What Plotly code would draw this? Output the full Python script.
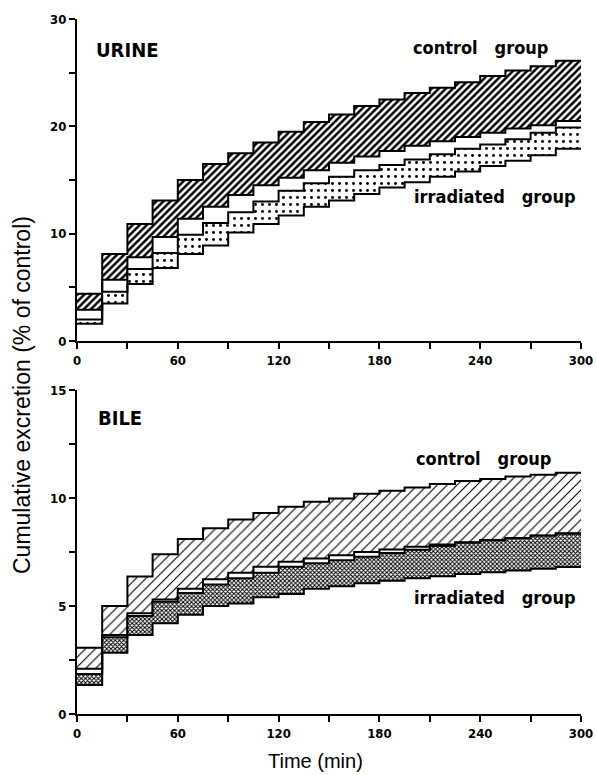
import plotly.graph_objects as go

# ---- data ----
TIME_EDGES = [0, 15, 30, 45, 60, 75, 90, 105, 120, 135, 150, 165, 180, 195, 210, 225, 240, 255, 270, 285, 300]

URINE_CTRL_UPPER = [4.4, 8.1, 10.9, 13.1, 15.0, 16.5, 17.5, 18.5, 19.5, 20.4, 21.1, 21.9, 22.5, 23.1, 23.6, 24.1, 24.7, 25.2, 25.6, 26.1]
URINE_CTRL_LOWER = [2.9, 5.7, 7.8, 9.7, 11.4, 12.5, 13.6, 14.5, 15.2, 15.9, 16.6, 17.2, 17.7, 18.2, 18.6, 19.0, 19.4, 19.8, 20.1, 20.5]
URINE_IRR_UPPER = [2.0, 4.6, 6.7, 8.2, 9.9, 11.0, 12.0, 13.0, 14.0, 14.7, 15.3, 15.9, 16.4, 16.9, 17.4, 17.9, 18.3, 18.8, 19.4, 19.9]
URINE_IRR_LOWER = [1.6, 3.5, 5.3, 6.8, 8.1, 8.9, 10.1, 10.9, 11.7, 12.5, 13.1, 13.7, 14.3, 14.8, 15.3, 15.8, 16.3, 16.8, 17.3, 17.9]

BILE_CTRL_UPPER = [3.07, 5.0, 6.36, 7.4, 8.1, 8.6, 9.0, 9.3, 9.6, 9.83, 9.98, 10.2, 10.34, 10.49, 10.65, 10.79, 10.88, 10.99, 11.08, 11.17]
BILE_CTRL_LOWER = [2.1, 3.66, 4.66, 5.3, 5.8, 6.24, 6.54, 6.82, 7.05, 7.2, 7.35, 7.5, 7.62, 7.74, 7.85, 7.95, 8.05, 8.15, 8.26, 8.37]
BILE_IRR_UPPER = [1.85, 3.55, 4.54, 5.2, 5.6, 6.0, 6.28, 6.54, 6.82, 6.98, 7.12, 7.28, 7.45, 7.6, 7.78, 7.93, 8.04, 8.14, 8.25, 8.35]
BILE_IRR_LOWER = [1.34, 2.84, 3.66, 4.2, 4.6, 5.0, 5.12, 5.4, 5.56, 5.8, 5.92, 6.05, 6.17, 6.28, 6.38, 6.48, 6.56, 6.64, 6.72, 6.8]

X_TICKS = [0, 60, 120, 180, 240, 300]
URINE_Y_TICKS = [0, 10, 20, 30]
BILE_Y_TICKS = [0, 5, 10, 15]

BOLD_FONT = "DejaVu Sans Condensed, Liberation Sans Narrow, DejaVu Sans"


def step_y(vals):
    return list(vals) + [vals[-1]]


fig = go.Figure()


def add_band(lower, upper, xa, ya, pattern):
    fig.add_trace(go.Scatter(
        x=TIME_EDGES, y=step_y(lower), mode="lines", line=dict(shape="hv", color="black", width=2),
        xaxis=xa, yaxis=ya, showlegend=False, hoverinfo="skip"))
    fig.add_trace(go.Scatter(
        x=TIME_EDGES, y=step_y(upper), mode="lines", line=dict(shape="hv", color="black", width=2),
        fill="tonexty", fillcolor="white", fillpattern=pattern,
        xaxis=xa, yaxis=ya, showlegend=False, hoverinfo="skip"))


add_band(URINE_CTRL_LOWER, URINE_CTRL_UPPER, "x", "y",
         dict(shape="/", size=5, solidity=0.5, fgcolor="black", bgcolor="white"))
add_band(URINE_IRR_LOWER, URINE_IRR_UPPER, "x", "y",
         dict(shape=".", size=7, solidity=0.14, fgcolor="black", bgcolor="white"))
add_band(BILE_CTRL_LOWER, BILE_CTRL_UPPER, "x2", "y2",
         dict(shape="/", size=7, solidity=0.16, fgcolor="black", bgcolor="white"))
add_band(BILE_IRR_LOWER, BILE_IRR_UPPER, "x2", "y2",
         dict(shape="x", size=3, solidity=0.55, fgcolor="black", bgcolor="white"))

axis_common = dict(
    showline=True, linecolor="black", linewidth=2, ticks="outside", ticklen=6, tickwidth=2,
    tickcolor="black", showgrid=False, zeroline=False, automargin=False,
    tickfont=dict(family=BOLD_FONT, size=13, color="black", weight="bold"),
)

xdom = [77 / 597, 581 / 597]
fig.update_layout(
    template="none",
    width=597, height=775, autosize=False,
    margin=dict(l=0, r=0, t=0, b=0, pad=0),
    paper_bgcolor="white", plot_bgcolor="white",
    xaxis=dict(domain=xdom, range=[0, 300], tickvals=X_TICKS, anchor="y",
               minor=dict(dtick=30, ticklen=6, tickwidth=2, tickcolor="black", ticks="outside"), **axis_common),
    yaxis=dict(domain=[(775 - 341) / 775, (775 - 19) / 775], range=[0, 30], tickvals=URINE_Y_TICKS, anchor="x",
               minor=dict(dtick=5, ticklen=6, tickwidth=2, tickcolor="black", ticks="outside"), **axis_common),
    xaxis2=dict(domain=xdom, range=[0, 300], tickvals=X_TICKS, anchor="y2",
                minor=dict(dtick=30, ticklen=6, tickwidth=2, tickcolor="black", ticks="outside"), **axis_common),
    yaxis2=dict(domain=[(775 - 714) / 775, (775 - 390) / 775], range=[0, 15], tickvals=BILE_Y_TICKS, anchor="x2",
                minor=dict(dtick=2.5, ticklen=6, tickwidth=2, tickcolor="black", ticks="outside"), **axis_common),
)

lab_font = dict(family=BOLD_FONT, size=18, color="black", weight="bold")
big_font = dict(family=BOLD_FONT, size=20, color="black", weight="bold")
ann = [
    dict(x=30, y=27.1, xref="x", yref="y", text="URINE", font=big_font),
    dict(x=240, y=27.3, xref="x", yref="y", text="control&nbsp;&nbsp; group", font=lab_font),
    dict(x=249, y=13.5, xref="x", yref="y", text="irradiated&nbsp;&nbsp; group", font=lab_font),
    dict(x=25.6, y=13.7, xref="x2", yref="y2", text="BILE", font=big_font),
    dict(x=242, y=11.85, xref="x2", yref="y2", text="control&nbsp;&nbsp; group", font=lab_font),
    dict(x=249, y=5.4, xref="x2", yref="y2", text="irradiated&nbsp;&nbsp; group", font=lab_font),
    dict(x=315 / 597, y=(775 - 761) / 775, xref="paper", yref="paper", text="Time (min)",
         font=dict(family="Liberation Sans, Arial", size=20, color="black")),
    dict(x=22 / 597, y=(775 - 395) / 775, xref="paper", yref="paper", text="Cumulative excretion (% of control)",
         textangle=-90, font=dict(family="Liberation Sans, Arial", size=23, color="black")),
]
for a in ann:
    a.update(showarrow=False, xanchor="center", yanchor="middle")
fig.update_layout(annotations=ann)

fig.write_html("out.html", config={"displayModeBar": False},
               post_script="document.body.style.margin='0';document.body.style.overflow='hidden';")
